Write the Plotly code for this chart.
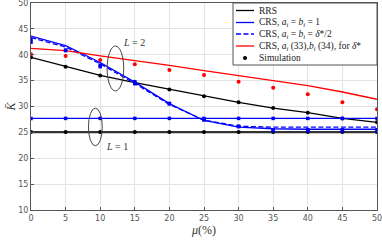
import plotly.graph_objects as go

mu = [0, 5, 10, 15, 20, 25, 30, 35, 40, 45, 50]

rrs_L2 = [39.5, 37.7, 36.0, 34.6, 33.3, 32.0, 30.8, 29.7, 28.8, 27.7, 26.95]
rrs_L1 = [25.05] * 11
crs1_L2 = [43.6, 41.75, 38.5, 34.7, 30.55, 27.3, 26.0, 25.7, 25.6, 25.6, 25.6]
crs1_L1 = [27.7] * 11
crs2_L2 = [43.3, 41.5, 38.25, 34.45, 30.4, 27.35, 26.2, 26.0, 26.0, 26.0, 26.0]
crs3_L2 = [41.25, 40.8, 39.8, 38.9, 37.95, 36.95, 36.0, 35.1, 34.05, 32.8, 31.4]

sim_rrs_L2 = [39.5, 37.7, 36.0, 34.6, 33.3, 32.0, 30.8, 29.7, 28.8, 27.7, 26.95]
sim_rrs_L1 = [25.05] * 11
sim_crs1_L2 = [42.9, 40.9, 38.0, 34.8, 30.6, 27.5, 26.2, 25.5, 25.5, 25.5, 25.5]
sim_crs2_L2 = [42.4, 40.8, 37.7, 34.4, 30.5, 27.4, 26.1, 25.3, 25.3, 25.3, 25.3]
sim_crs1_L1 = [27.7] * 11
sim_crs3_L2 = [40.1, 39.75, 39.0, 38.15, 37.05, 36.1, 34.8, 33.6, 32.35, 30.8, 29.45]

x_ticks = [0, 5, 10, 15, 20, 25, 30, 35, 40, 45, 50]
y_ticks = [10, 15, 20, 25, 30, 35, 40, 45, 50]

legend_labels = [
    "RRS",
    "CRS, <i>a<sub>i</sub></i> = <i>b<sub>i</sub></i> = 1",
    "CRS, <i>a<sub>i</sub></i> = <i>b<sub>i</sub></i> = <i>δ</i>*/2",
    "CRS, <i>a<sub>i</sub></i> (33),<i>b<sub>i</sub></i> (34), for <i>δ</i>*",
    "Simulation",
]

BLUE = "#0000FF"
RED = "#FF0000"
BLACK = "#000000"

fig = go.Figure()

def line(y, color, dash="solid", width=1.3):
    fig.add_trace(go.Scatter(x=mu, y=y, mode="lines",
                             line=dict(color=color, width=width, dash=dash),
                             showlegend=False, hoverinfo="skip"))

def dots(y, color, symbol="circle", size=4):
    fig.add_trace(go.Scatter(x=mu, y=y, mode="markers",
                             marker=dict(color=color, size=size, symbol=symbol),
                             showlegend=False, hoverinfo="skip"))

line(rrs_L2, BLACK)
line(crs1_L2, BLUE)
line(crs2_L2, BLUE, dash="5px,2.5px")
line(crs3_L2, RED)
line(rrs_L1, "#333333", width=2.2)
line(crs1_L1, BLUE)

dots(sim_rrs_L2, BLACK)
dots(sim_rrs_L1, BLACK)
dots(sim_crs1_L1, BLUE, symbol="square", size=3.5)
dots(sim_crs1_L2, BLUE, symbol="square", size=3.5)
dots(sim_crs2_L2, BLUE, symbol="square", size=3.5)
dots(sim_crs3_L2, RED)

# ellipses + labels
fig.add_shape(type="circle", xref="x", yref="y", x0=11.0, x1=13.4, y0=33.0, y1=41.7,
              line=dict(color="#444444", width=1))
fig.add_shape(type="circle", xref="x", yref="y", x0=8.3, x1=10.3, y0=22.4, y1=29.7,
              line=dict(color="#444444", width=1))
fig.add_annotation(x=14.9, y=42.3, text="<i>L</i> = 2", showarrow=False,
                   font=dict(family="Liberation Serif", size=10, color="#333333"))
fig.add_annotation(x=12.4, y=22.2, text="<i>L</i> = 1", showarrow=False,
                   font=dict(family="Liberation Serif", size=10, color="#333333"))

# legend box (plot area: x 31..377 px, y 3..210 px)
PL, PW, PT, PH = 31, 346, 3, 207
def px(x):
    return (x - PL) / PW
def py(y):
    return (PT + PH - y) / PH

fig.add_shape(type="rect", xref="paper", yref="paper", x0=px(233), x1=1, y0=py(65), y1=1,
              fillcolor="white", line=dict(color="#555555", width=1), layer="above")
row_y = [10.5, 22.5, 34, 46, 58]
styles = [(BLACK, "solid"), (BLUE, "solid"), (BLUE, "5px,2.5px"), (RED, "solid")]
for (c, d), ry in zip(styles, row_y[:4]):
    fig.add_shape(type="line", xref="paper", yref="paper", x0=px(236), x1=px(254),
                  y0=py(ry), y1=py(ry), line=dict(color=c, width=1.3, dash=d), layer="above")
fig.add_shape(type="circle", xref="paper", yref="paper",
              x0=px(243), x1=px(247), y0=py(row_y[4] + 2), y1=py(row_y[4] - 2),
              fillcolor=BLACK, line=dict(color=BLACK, width=0), layer="above")
for lab, ry in zip(legend_labels, row_y):
    fig.add_annotation(xref="paper", yref="paper", x=px(257), y=py(ry), text=lab,
                       showarrow=False, xanchor="left", yanchor="middle",
                       font=dict(family="Liberation Serif", size=9.5, color="#222222"))

axis_common = dict(showline=True, linecolor="#555555", linewidth=1, mirror=True,
                   showgrid=True, gridcolor="#e3e3e3", gridwidth=1, zeroline=False,
                   ticks="inside", ticklen=3, tickcolor="#555555", automargin=False,
                   ticklabeloverflow="allow",
                   tickfont=dict(family="DejaVu Sans", size=8, color="#555555"))

fig.update_xaxes(range=[0, 50], tickvals=x_ticks, **axis_common,
                 title=dict(text="<i>μ</i>(%)", standoff=0,
                            font=dict(family="Liberation Serif", size=12, color="#333333")))
fig.update_yaxes(range=[10, 50], tickvals=y_ticks, **axis_common,
                 title=dict(text="<i>K̄</i>", standoff=0,
                            font=dict(family="Liberation Serif", size=12, color="#333333")))

fig.update_layout(
    width=382, height=240,
    margin=dict(l=31, r=5, t=3, b=30),
    paper_bgcolor="white", plot_bgcolor="white",
    showlegend=False,
)

fig.write_html("out.html", config={"displayModeBar": False, "staticPlot": True},
               post_script="document.body.style.margin='0px';document.body.style.overflow='hidden';")
